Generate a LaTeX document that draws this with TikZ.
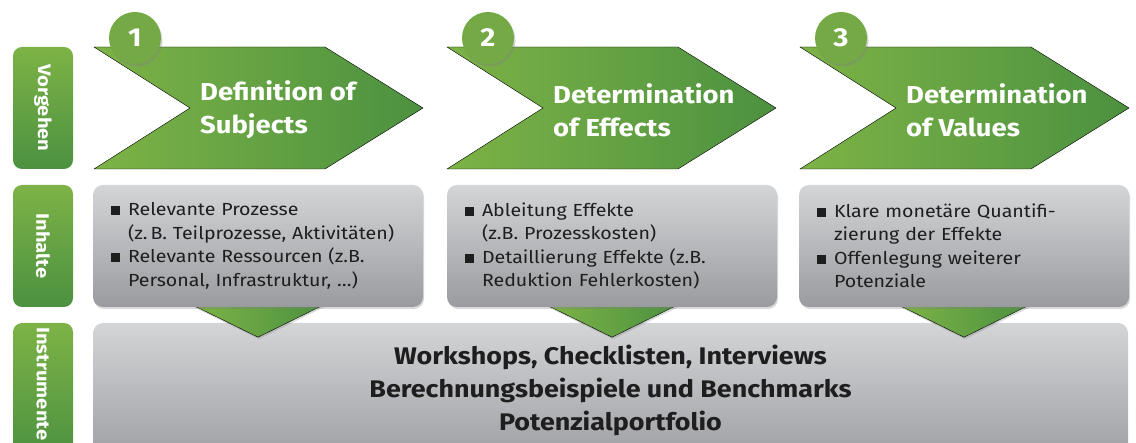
\documentclass[tikz,border=0pt]{standalone}
\usepackage{fontspec}
\setmainfont{Fira Sans}[FakeStretch=1.12]
\usepackage{xcolor}
\usetikzlibrary{calc,shadows,backgrounds}
\definecolor{greenlight}{HTML}{7DB346}
\definecolor{greendark}{HTML}{4C9140}
\definecolor{greenmid}{HTML}{74A945}
\definecolor{greylight}{HTML}{D4D5D7}
\definecolor{greydark}{HTML}{9A9B9F}
\definecolor{textdark}{HTML}{1E1E1E}
\newcommand{\sqbullet}{\makebox[17pt][l]{\rule[0.5pt]{9pt}{9pt}}}
\newcommand{\hangin}{\hspace*{17pt}}

\begin{document}
\begin{tikzpicture}[
    x=1pt, y=-1pt,
    lane/.style={rounded corners=9pt, top color=greenlight, bottom color=greendark, minimum width=60pt, inner sep=0pt},
    lanetext/.style={rotate=-90, text=white, inner sep=0pt, font=\bfseries\fontsize{18}{18}\selectfont},
    stepshape/.style={left color=greenlight, right color=greendark},
    steptitle/.style={anchor=west, text=white, align=left, inner sep=0pt, font=\bfseries\fontsize{24.5}{33}\selectfont},
    stepnum/.style={circle, fill=greenmid, minimum size=52pt, inner sep=0pt, text=white, font=\bfseries\fontsize{26}{26}\selectfont, drop shadow={opacity=0.35, shadow xshift=1.5pt, shadow yshift=-2.5pt}},
    infobox/.style={rounded corners=10pt, top color=greylight, bottom color=greydark, minimum width=330pt, minimum height=122pt, text width=294pt, inner xsep=18pt, inner ysep=0pt, align=left, text=textdark, font=\fontsize{17.5}{23.5}\selectfont, drop shadow={opacity=0.3, shadow xshift=1pt, shadow yshift=-2pt}},
    toolbox/.style={rounded corners=10pt, top color=greylight, bottom color=greydark!95!white, minimum width=1035pt, minimum height=134pt, align=center, text=textdark, font=\bfseries\fontsize{24}{33}\selectfont},
    funnel/.style={left color=greenlight, right color=greendark, drop shadow={opacity=0.3, shadow xshift=1pt, shadow yshift=-2pt}}
]
\useasboundingbox (0,0) rectangle (1136,443);

% lanes
\node[lane, minimum height=122pt] (vorgehen) at (43,108) {};
\node[lanetext] (vorgehenlbl) at (vorgehen) {Vorgehen};
\node[lane, minimum height=122pt] (inhalte) at (43,246) {};
\node[lanetext] (inhaltelbl) at (inhalte) {Inhalte};
\node[lane, minimum height=134pt] (instrumente) at (43,390) {};
\node[lanetext, anchor=west] (instrumentelbl) at (43,327) {Instrumente};

% steps
\draw[stepshape] (94,47) -- (325,47) -- (423,108) -- (325,169) -- (94,169) -- (190,108) -- cycle;
\draw[stepshape] (447,47) -- (678,47) -- (776,108) -- (678,169) -- (447,169) -- (543,108) -- cycle;
\draw[stepshape] (800,47) -- (1031,47) -- (1129,108) -- (1031,169) -- (800,169) -- (896,108) -- cycle;
\node[steptitle] (title1) at (200,110) {Definition of\\Subjects};
\node[steptitle] (title2) at (553,110) {Determination\\of Effects};
\node[steptitle] (title3) at (906,110) {Determination\\of Values};
\node[stepnum] (num1) at (135,38) {1};
\node[stepnum] (num2) at (488,38) {2};
\node[stepnum] (num3) at (841,38) {3};

% contents
\node[infobox] (info1) at (258,246) {\sqbullet Relevante Prozesse\\\hangin(z.\,B. Teilprozesse, Aktivitäten)\\\sqbullet Relevante Ressourcen (z.B.\\\hangin Personal, Infrastruktur, \dots)};
\node[infobox] (info2) at (612,246) {\sqbullet Ableitung Effekte\\\hangin(z.B. Prozesskosten)\\\sqbullet Detaillierung Effekte (z.B.\\\hangin Reduktion Fehlerkosten)};
\node[infobox] (info3) at (964,246) {\sqbullet Klare monetäre Quantifi-\\\hangin zierung der Effekte\\\sqbullet Offenlegung weiterer\\\hangin Potenziale};

% tools
\begin{scope}[on background layer]
\node[toolbox] (tools) at (610.5,390) {Workshops, Checklisten, Interviews\\Berechnungsbeispiele und Benchmarks\\Potenzialportfolio};
\draw[funnel] ($(info1.south)+(-65,-2)$) -- ($(info1.south)+(65,-2)$) -- ($(info1.south)+(0,30)$) -- cycle;
\draw[funnel] ($(info2.south)+(-65,-2)$) -- ($(info2.south)+(65,-2)$) -- ($(info2.south)+(0,30)$) -- cycle;
\draw[funnel] ($(info3.south)+(-65,-2)$) -- ($(info3.south)+(65,-2)$) -- ($(info3.south)+(0,30)$) -- cycle;
\end{scope}
\end{tikzpicture}
\end{document}
